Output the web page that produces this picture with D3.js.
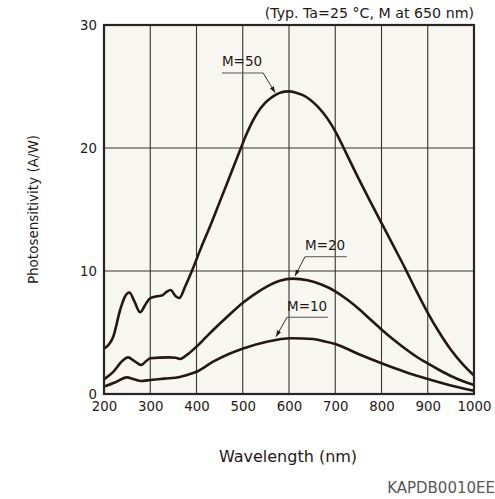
<!DOCTYPE html>
<html><head><meta charset="utf-8">
<script src="https://cdn.jsdelivr.net/npm/d3@7"></script>
<style>body{margin:0;background:#fff}svg{display:block}text{font-family:"DejaVu Sans",Verdana,sans-serif;fill:#231815}</style>
</head><body><svg id="c" width="495" height="499"></svg>
<script>
const xTicks=[200,300,400,500,600,700,800,900,1000];
const yTicks=[0,10,20,30];
const m50=[[200,3.7],[210,4.0],[220,4.66],[235,6.85],[245,7.9],[255,8.25],[265,7.6],[278,6.65],[290,7.3],[300,7.8],[315,7.95],[325,8.0],[335,8.3],[344,8.45],[355,7.95],[363,7.8],[375,8.7],[390,10.0],[410,11.9],[430,13.7],[450,15.6],[470,17.5],[485,18.95],[496,20.0],[505,20.85],[515,21.7],[526,22.5],[537,23.15],[548,23.65],[560,24.05],[570,24.3],[580,24.48],[590,24.58],[600,24.6],[615,24.5],[630,24.3],[645,23.95],[660,23.45],[675,22.8],[690,22.0],[703,21.15],[717,20.1],[733,18.85],[750,17.55],[775,15.7],[800,13.9],[825,12.1],[850,10.3],[875,8.4],[900,6.6],[925,5.0],[950,3.6],[975,2.45],[1000,1.5]];
const m20=[[200,1.19],[220,1.8],[240,2.7],[252,2.98],[265,2.7],[280,2.36],[292,2.7],[300,2.9],[340,2.98],[355,2.95],[364,2.85],[380,3.2],[400,3.85],[420,4.6],[436,5.2],[470,6.4],[501,7.43],[525,8.1],[552,8.73],[580,9.2],[608,9.38],[640,9.25],[670,8.9],[700,8.35],[725,7.7],[750,6.95],[775,6.1],[800,5.25],[825,4.45],[850,3.72],[875,3.05],[900,2.48],[925,1.95],[950,1.46],[975,1.05],[1000,0.73]];
const m10=[[200,0.6],[225,0.95],[249,1.35],[265,1.2],[280,1.06],[300,1.14],[330,1.25],[364,1.38],[380,1.55],[400,1.81],[436,2.63],[470,3.25],[501,3.7],[552,4.25],[606,4.53],[652,4.47],[675,4.3],[700,4.07],[750,3.25],[800,2.5],[850,1.81],[900,1.22],[950,0.7],[1000,0.27]];
const labels=[
 {t:"M=50",tx:455,ty:26.4,u0:455,u1:544,uy:26.1,ax:570,ay:24.5},
 {t:"M=20",tx:634.6,ty:11.46,u0:634.6,u1:725,uy:11.16,ax:613,ay:9.6},
 {t:"M=10",tx:595.7,ty:6.5,u0:595.7,u1:684,uy:6.24,ax:572,ay:4.66}];
const svg=d3.select("#c");
const L=104,R=474,T=25,B=394;
const x=d3.scaleLinear().domain([200,1000]).range([L,R]);
const y=d3.scaleLinear().domain([0,30]).range([B,T]);
const ink="#231815";
svg.append("rect").attr("x",L).attr("y",T).attr("width",R-L).attr("height",B-T).attr("fill","#f7f6f0");
const g=svg.append("g");
g.selectAll(".gx").data(xTicks.slice(1,-1)).join("line").attr("x1",d=>x(d)).attr("x2",d=>x(d)).attr("y1",T).attr("y2",B).attr("stroke","#3a3431").attr("stroke-width",1.1);
g.selectAll(".gy").data(yTicks.slice(1,-1)).join("line").attr("y1",d=>y(d)).attr("y2",d=>y(d)).attr("x1",L).attr("x2",R).attr("stroke","#3a3431").attr("stroke-width",1.1);
const line=d3.line().x(d=>x(d[0])).y(d=>y(d[1])).curve(d3.curveMonotoneX);
[m50,m20,m10].forEach(s=>svg.append("path").attr("d",line(s)).attr("fill","none").attr("stroke",ink).attr("stroke-width",2.6).attr("stroke-linejoin","round"));
svg.append("rect").attr("x",L).attr("y",T).attr("width",R-L).attr("height",B-T).attr("fill","none").attr("stroke","#2b2522").attr("stroke-width",2.2);
const xa=svg.append("g").attr("transform",`translate(0,${B})`).call(d3.axisBottom(x).tickValues(xTicks).tickSize(0).tickPadding(8).tickFormat(d3.format("d")));
xa.select(".domain").remove();
const ya=svg.append("g").attr("transform",`translate(${L},0)`).call(d3.axisLeft(y).tickValues(yTicks).tickSize(0).tickPadding(7));
ya.select(".domain").remove();
svg.selectAll(".tick text").attr("font-size",13.3).attr("font-family","DejaVu Sans").attr("fill",ink);
svg.append("defs").append("marker").attr("id","ah").attr("viewBox","0 0 10 10").attr("refX",10).attr("refY",5).attr("markerWidth",7).attr("markerHeight",7).attr("orient","auto").append("path").attr("d","M0,1.5L10,5L0,8.5Z").attr("fill",ink);
labels.forEach(l=>{
 svg.append("text").attr("x",x(l.tx)).attr("y",y(l.ty)-3).attr("font-size",13.5).text(l.t);
 svg.append("line").attr("x1",x(l.u0)).attr("x2",x(l.u1)).attr("y1",y(l.uy)).attr("y2",y(l.uy)).attr("stroke","#555").attr("stroke-width",1);
 const sx=l.ax<l.u0?x(l.u0):x(l.u1);
 svg.append("line").attr("x1",sx).attr("y1",y(l.uy)).attr("x2",x(l.ax)).attr("y2",y(l.ay)).attr("stroke",ink).attr("stroke-width",0.9).attr("marker-end","url(#ah)");
});
svg.append("text").attr("x",R).attr("y",18).attr("text-anchor","end").attr("font-size",14.2).text("(Typ. Ta=25 °C, M at 650 nm)");
svg.append("text").attr("x",288).attr("y",462).attr("text-anchor","middle").attr("font-size",16).text("Wavelength (nm)");
svg.append("text").attr("transform",`translate(38,${(T+B)/2}) rotate(-90)`).attr("text-anchor","middle").attr("font-size",13.5).text("Photosensitivity (A/W)");
svg.append("text").attr("x",495).attr("y",493).attr("text-anchor","end").attr("font-size",15).style("fill","#595757").text("KAPDB0010EE");
</script></body></html>
